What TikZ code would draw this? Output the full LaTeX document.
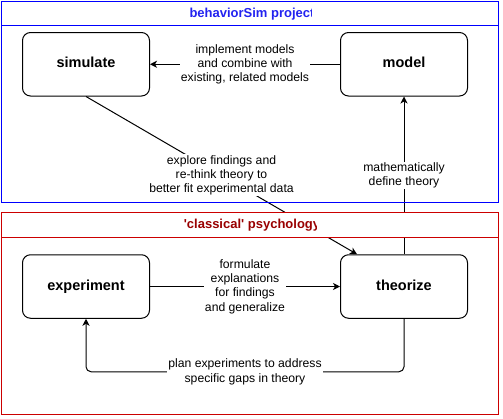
\documentclass[tikz,border=0pt]{standalone}
\usepackage{fontspec}
\setmainfont{Liberation Sans}
\newfontfamily\plainsans{Liberation Sans}[Ligatures=ResetAll]
\usetikzlibrary{arrows.meta}
\definecolor{bluestroke}{HTML}{0000FF}
\definecolor{bluetext}{HTML}{2222F0}
\definecolor{redstroke}{HTML}{CC0000}
\definecolor{redtext}{HTML}{990000}
\begin{document}
\begin{tikzpicture}[x=1pt,y=-1pt,
  box/.style={draw,line width=1pt,rounded corners=8pt,minimum width=127pt,minimum height=63.5pt,inner sep=0pt,
    text height=0.9em,text depth=0.2em,font=\fontsize{14.5}{17}\selectfont\bfseries},
  conn/.style={line width=1pt,-{Stealth[length=7pt,width=7pt,inset=2pt]}},
  lab/.style={fill=white,inner sep=1pt,align=center,rounded corners=0pt,font=\fontsize{12.2}{14.3}\selectfont},
  ttl/.style={font=\plainsans\fontsize{13}{15}\selectfont\bfseries,inner sep=0pt,text height=0.9em,text depth=0.2em},
  frame/.style={line width=1pt}]
\useasboundingbox (0,0) rectangle (503,418);

% nodes
\node[box] (simulate) at (86,64.25) {simulate};
\node[box] (model) at (404,64.25) {model};
\node[box] (experiment) at (86,286.5) {experiment};
\node[box] (theorize) at (404,286.5) {theorize};
\coordinate (tin) at ([xshift=17pt]theorize.north west);

% connectors
\draw[conn] (model) -- node[lab]{implement models\\and combine with\\existing, related models} (simulate);
\draw[conn] (theorize) -- node[lab]{mathematically\\define theory} (model);
\draw[conn] (simulate.south) -- node[lab]{explore findings and\\re-think theory to\\better fit experimental data} (tin);
\draw[conn] (experiment) -- node[lab]{formulate\\explanations\\for findings\\and generalize} (theorize);
\draw[conn,rounded corners=5pt] (theorize.south) -- ++(0,53) -| node[lab,pos=0.25]{plan experiments to address\\specific gaps in theory} (experiment.south);

% blue container
\draw[frame,bluestroke] (1.5,1.5) rectangle (498.5,202.5);
\draw[frame,bluestroke] (1.5,25) -- (498.5,25);
\begin{scope}
  \clip (1.5,1.5) rectangle (311.7,25);
  \node[ttl,text=bluetext] (bluetitle) at (252,13.5) {behaviorSim project};
\end{scope}

% red container
\fill[white] (1.5,212.5) rectangle (498.5,237.5);
\draw[frame,redstroke] (1.5,212.5) rectangle (498.5,414);
\draw[frame,redstroke] (1.5,237.5) -- (498.5,237.5);
\begin{scope}
  \clip (1.5,212.5) rectangle (316.7,237.5);
  \node[ttl,text=redtext] (redtitle) at (252,225) {'classical' psychology};
\end{scope}
\end{tikzpicture}
\end{document}
